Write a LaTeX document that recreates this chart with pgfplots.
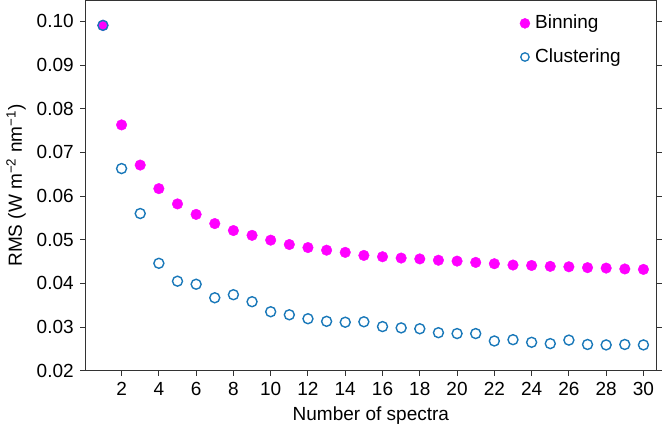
\documentclass[border=0pt]{standalone}
\usepackage{fontspec}
\setmainfont{Liberation Sans}
\usepackage{pgfplots}
\pgfplotsset{compat=1.18}
\definecolor{binc}{RGB}{255,0,255}
\definecolor{clusc}{RGB}{25,120,185}
\begin{document}
\fontsize{19}{23}\selectfont
\begin{tikzpicture}
\begin{axis}[
  scale only axis,
  width=571pt, height=370pt,
  xmin=0.05, xmax=30.7,
  ymin=0.02, ymax=0.1048,
  xtick={2,4,...,30},
  ytick={0.02,0.03,...,0.101},
  yticklabel style={/pgf/number format/.cd, fixed, fixed zerofill, precision=2},
  /pgf/number format/assume math mode=true,
  tick align=outside,
  major tick length=5pt,
  xtick pos=bottom,
  ytick pos=both,
  yticklabel pos=left,
  axis line style={line width=1pt, black!80},
  tick style={line width=1pt, black!80},
  xlabel={Number of spectra},
  ylabel={RMS (W m\textsuperscript{−2} nm\textsuperscript{−1})},
  ticklabel style={font=\fontsize{19}{23}\selectfont},
  label style={font=\fontsize{19}{23}\selectfont},
  xlabel style={yshift=2pt},
  ylabel style={yshift=-2pt},
  legend style={draw=none, fill=none, at={(0.755,0.972)}, anchor=north west,
    font=\fontsize{19}{23}\selectfont, row sep=13pt,
    nodes={inner xsep=5pt}},
  legend cell align=left,
]
\addplot[only marks, mark=*, mark size=5.3pt, mark options={fill=binc, draw=binc},
  legend image code/.code={\fill[binc] (0.3cm,0cm) circle (5pt);}] coordinates {
(1,0.0991)(2,0.0763)(3,0.0671)(4,0.0617)(5,0.0582)(6,0.0558)(7,0.0537)(8,0.0521)(9,0.0510)(10,0.0499)
(11,0.0489)(12,0.0482)(13,0.0476)(14,0.0471)(15,0.0464)(16,0.0461)(17,0.0458)(18,0.0456)(19,0.0453)(20,0.0451)
(21,0.0448)(22,0.0445)(23,0.0442)(24,0.0441)(25,0.0439)(26,0.0438)(27,0.0436)(28,0.0435)(29,0.0433)(30,0.0432)
};
\addlegendentry{Binning}
\addplot[only marks, mark=o, mark size=5pt, mark options={draw=clusc, line width=1.4pt},
  legend image code/.code={\draw[clusc, line width=1.3pt] (0.3cm,0cm) circle (4.2pt);}] coordinates {
(1,0.0991)(2,0.0663)(3,0.0560)(4,0.0446)(5,0.0405)(6,0.0398)(7,0.0367)(8,0.0374)(9,0.0358)(10,0.0335)
(11,0.0328)(12,0.0319)(13,0.0313)(14,0.0311)(15,0.0312)(16,0.0301)(17,0.0298)(18,0.0296)(19,0.0287)(20,0.0285)
(21,0.0285)(22,0.0268)(23,0.0271)(24,0.0265)(25,0.0262)(26,0.0270)(27,0.0260)(28,0.0259)(29,0.0260)(30,0.0259)
};
\addlegendentry{Clustering}
\end{axis}
\end{tikzpicture}
\end{document}
